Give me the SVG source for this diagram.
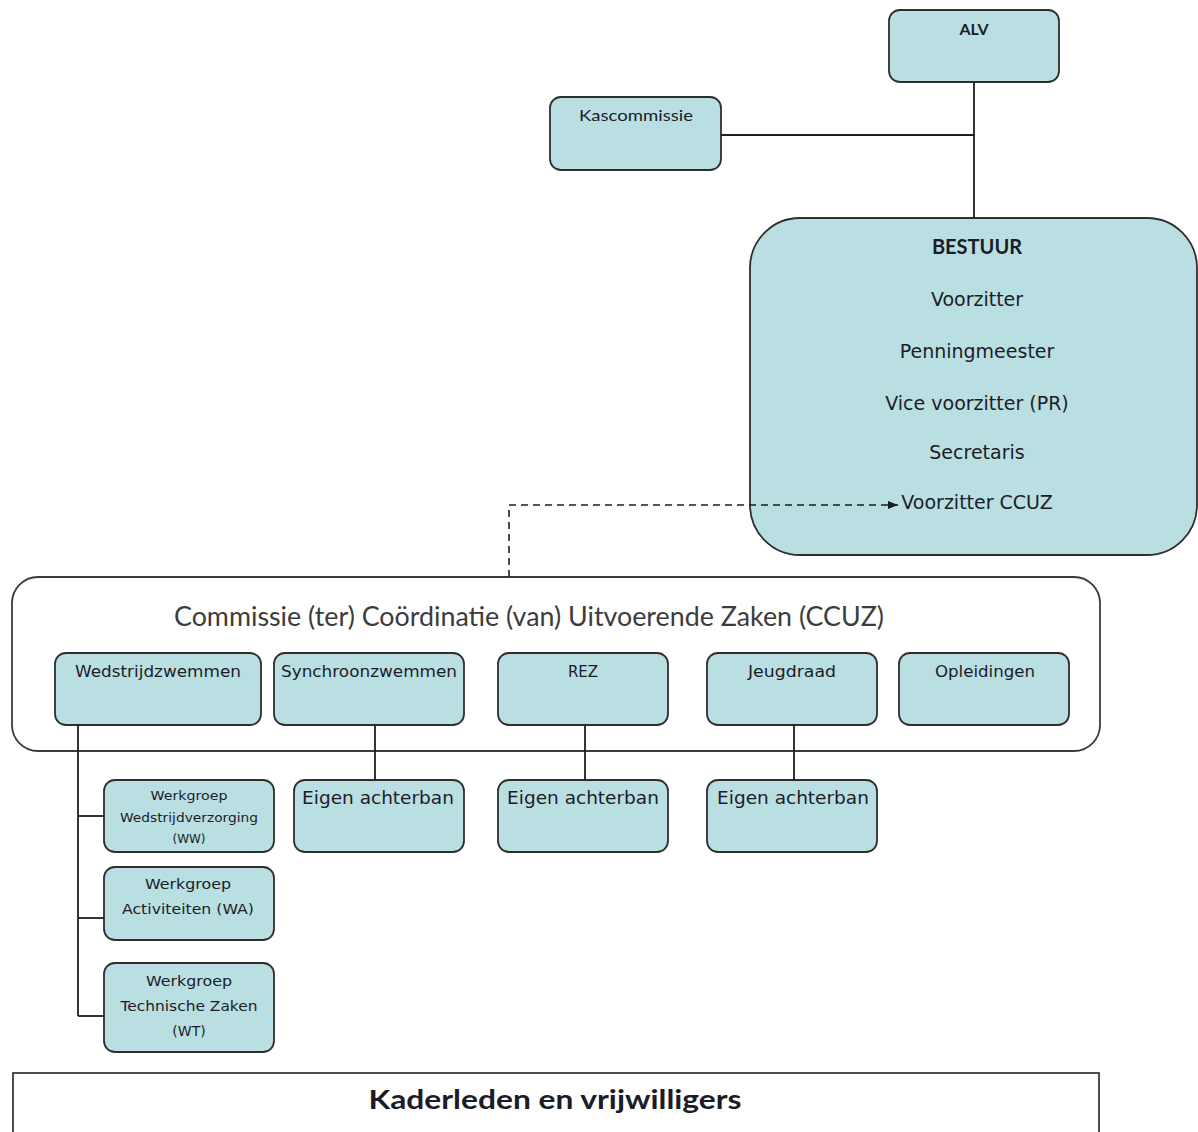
<svg xmlns="http://www.w3.org/2000/svg" width="1198" height="1132" viewBox="0 0 1198 1132">
<style>
.box{fill:#b9dfe2;stroke:#2e2e2e;stroke-width:1.8}
.frame{fill:#ffffff;stroke:#3a3a3a;stroke-width:1.8}
.ln{fill:none;stroke:#1e1e1e;stroke-width:1.8}
.dash{fill:none;stroke:#1e1e1e;stroke-width:1.6;stroke-dasharray:7 5}
.t{font-family:"DejaVu Sans","Liberation Sans",sans-serif;fill:#1c1c28;text-anchor:middle}
.c{font-family:Lato,"Liberation Sans",sans-serif;fill:#1c1c28;text-anchor:middle}
.b{font-weight:bold}
</style>
<defs>
<marker id="arr" viewBox="0 0 10 10" refX="10" refY="5" markerWidth="10" markerHeight="10" markerUnits="userSpaceOnUse" orient="auto">
<path d="M0,1 L10,5 L0,9 z" fill="#1e1e1e"/>
</marker>
</defs>
<rect width="1198" height="1132" fill="#ffffff"/>

<g id="alv">
<rect class="box" x="889" y="10" width="170" height="72" rx="11"/>
<text class="c b" x="974" y="35" font-size="16">ALV</text>
</g>

<g id="kascommissie">
<rect class="box" x="550" y="97" width="171" height="73" rx="11"/>
<text class="c" x="636" y="121" font-size="16" textLength="114" lengthAdjust="spacingAndGlyphs">Kascommissie</text>
</g>

<g id="bestuur">
<rect class="box" x="750" y="218" width="447" height="337" rx="50"/>
<text class="c b" x="977" y="254" font-size="20">BESTUUR</text>
<text class="t" x="977" y="306" font-size="19">Voorzitter</text>
<text class="t" x="977" y="358" font-size="19">Penningmeester</text>
<text class="t" x="977" y="410" font-size="19">Vice voorzitter (PR)</text>
<text class="t" x="977" y="459" font-size="19">Secretaris</text>
<text class="t" x="977" y="509" font-size="19">Voorzitter CCUZ</text>
</g>

<g id="ccuz">
<rect class="frame" x="12" y="577" width="1088" height="174" rx="26"/>
<text class="c" x="529" y="626" font-size="27" style="fill:#3c3c3c" textLength="710" lengthAdjust="spacingAndGlyphs">Commissie (ter) Coördinatie (van) Uitvoerende Zaken (CCUZ)</text>
</g>

<g id="wedstrijdzwemmen">
<rect class="box" x="55" y="653" width="206" height="72" rx="11"/>
<text class="t" x="158" y="677" font-size="15" textLength="166" lengthAdjust="spacingAndGlyphs">Wedstrijdzwemmen</text>
</g>
<g id="synchroonzwemmen">
<rect class="box" x="274" y="653" width="190" height="72" rx="11"/>
<text class="t" x="369" y="677" font-size="15" textLength="176" lengthAdjust="spacingAndGlyphs">Synchroonzwemmen</text>
</g>
<g id="rez">
<rect class="box" x="498" y="653" width="170" height="72" rx="11"/>
<text class="t" x="583" y="677" font-size="15">REZ</text>
</g>
<g id="jeugdraad">
<rect class="box" x="707" y="653" width="170" height="72" rx="11"/>
<text class="t" x="792" y="677" font-size="15" textLength="88" lengthAdjust="spacingAndGlyphs">Jeugdraad</text>
</g>
<g id="opleidingen">
<rect class="box" x="899" y="653" width="170" height="72" rx="11"/>
<text class="t" x="985" y="677" font-size="15" textLength="100" lengthAdjust="spacingAndGlyphs">Opleidingen</text>
</g>

<g id="werkgroep-ww">
<rect class="box" x="104" y="780" width="170" height="72" rx="11"/>
<text class="t" x="189" y="800" font-size="12" textLength="77" lengthAdjust="spacingAndGlyphs">Werkgroep</text>
<text class="t" x="189" y="822" font-size="12" textLength="138" lengthAdjust="spacingAndGlyphs">Wedstrijdverzorging</text>
<text class="t" x="189" y="843" font-size="12">(WW)</text>
</g>
<g id="werkgroep-wa">
<rect class="box" x="104" y="867" width="170" height="73" rx="11"/>
<text class="t" x="188" y="889" font-size="14" textLength="86" lengthAdjust="spacingAndGlyphs">Werkgroep</text>
<text class="t" x="188" y="914" font-size="14" textLength="132" lengthAdjust="spacingAndGlyphs">Activiteiten (WA)</text>
</g>
<g id="werkgroep-wt">
<rect class="box" x="104" y="963" width="170" height="89" rx="11"/>
<text class="t" x="189" y="986" font-size="14" textLength="86" lengthAdjust="spacingAndGlyphs">Werkgroep</text>
<text class="t" x="189" y="1011" font-size="14" textLength="137" lengthAdjust="spacingAndGlyphs">Technische Zaken</text>
<text class="t" x="189" y="1036" font-size="14">(WT)</text>
</g>

<g id="achterban-synchroon">
<rect class="box" x="294" y="780" width="170" height="72" rx="11"/>
<text class="t" x="378" y="804" font-size="18.5">Eigen achterban</text>
</g>
<g id="achterban-rez">
<rect class="box" x="498" y="780" width="170" height="72" rx="11"/>
<text class="t" x="583" y="804" font-size="18.5">Eigen achterban</text>
</g>
<g id="achterban-jeugdraad">
<rect class="box" x="707" y="780" width="170" height="72" rx="11"/>
<text class="t" x="793" y="804" font-size="18.5">Eigen achterban</text>
</g>

<g id="kaderleden">
<rect class="frame" x="13" y="1073" width="1086" height="80"/>
<text class="c b" x="555" y="1109" font-size="27" textLength="373" lengthAdjust="spacingAndGlyphs">Kaderleden en vrijwilligers</text>
</g>

<g id="connectors">
<path class="ln" d="M974,82 V218"/>
<path class="ln" d="M721,135 H974"/>
<path class="dash" d="M509,577 V505 H898" marker-end="url(#arr)"/>
<path class="ln" d="M78,725 V1016"/>
<path class="ln" d="M78,816 H104"/>
<path class="ln" d="M78,918 H104"/>
<path class="ln" d="M78,1016 H104"/>
<path class="ln" d="M375,725 V780"/>
<path class="ln" d="M585,725 V780"/>
<path class="ln" d="M794,725 V780"/>
</g>
</svg>
